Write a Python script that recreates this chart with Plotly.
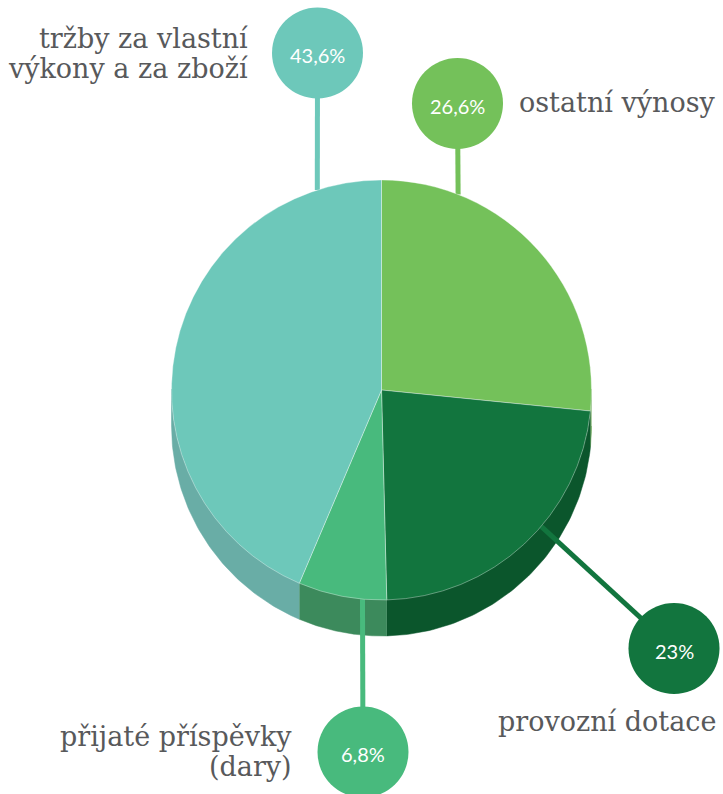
import numpy as np
import plotly.graph_objects as go

# ---- data ----
categories = ["ostatní výnosy", "provozní dotace", "přijaté příspěvky (dary)",
              "tržby za vlastní výkony a za zboží"]
label_lines = [["ostatní výnosy"], ["provozní dotace"], ["přijaté příspěvky", "(dary)"],
               ["tržby za vlastní", "výkony a za zboží"]]
values = [26.6, 23.0, 6.8, 43.6]
pct_labels = ["26,6%", "23%", "6,8%", "43,6%"]

# ---- styles / layout constants ----
top_colors = ["#74C15A", "#12753E", "#48BA7D", "#6DC8BA"]
side_colors = ["#5E9E4A", "#0B562C", "#3C8A5C", "#69ADA6"]
W, H = 723, 794
CX, CY, R = 381.5, 390.0, 210.0
DEPTH = 36.0
LINE_GAP = 30.0
# callout circles (pixel positions) and the rim angle where each leader line starts
callout_x = [457.5, 674.0, 363.0, 317.5]
callout_y = [103.5, 648.5, 752.0, 53.0]
anchor_deg = [21.4, 130.5, 185.2, 342.2]
label_pos = [(517, 102, "left"), (718, 721, "right"), (294, 736, "right"), (250, 38, "right")]

fig = go.Figure()

# side walls of the extruded pie (computed from the slice angles)
tot = sum(values)
start = 0.0
for v, c in zip(values, side_colors):
    a0 = start
    a1 = start + 360.0 * v / tot
    start = a1
    lo, hi = max(a0, 90.0), min(a1, 270.0)
    if hi <= lo:
        continue
    th = np.radians(np.linspace(lo, hi, 80))
    xs = CX + R * np.sin(th)
    ys = CY - R * np.cos(th)
    px = np.concatenate([xs, xs[::-1]])
    py = np.concatenate([ys - 1, (ys + DEPTH)[::-1]])
    fig.add_trace(go.Scatter(x=px, y=py, mode="lines", fill="toself", fillcolor=c,
                             line=dict(color=c, width=0.5), hoverinfo="skip"))

# leader lines
for ang, cx, cy, c in zip(anchor_deg, callout_x, callout_y, top_colors):
    t = np.radians(ang)
    ax, ay = CX + R * np.sin(t), CY - R * np.cos(t)
    fig.add_trace(go.Scatter(x=[ax, cx], y=[ay, cy], mode="lines",
                             line=dict(color=c, width=5), hoverinfo="skip"))

# callout circles
fig.add_trace(go.Scatter(x=callout_x, y=callout_y, mode="markers",
                         marker=dict(size=91, color=top_colors, line=dict(width=0)),
                         hoverinfo="skip"))

# top face of the pie
fig.add_trace(go.Pie(values=values, labels=categories, sort=False, direction="clockwise",
                     rotation=0, textinfo="none", hoverinfo="skip",
                     marker=dict(colors=top_colors, line=dict(color="rgba(255,255,255,0.35)", width=1)),
                     domain=dict(x=[(CX - R) / W, (CX + R) / W],
                                 y=[1 - (CY + R) / H, 1 - (CY - R) / H])))

# percentages inside the circles
for cx, cy, txt in zip(callout_x, callout_y, pct_labels):
    fig.add_annotation(x=cx, y=cy, xref="x", yref="y", text=txt, showarrow=False,
                       xanchor="center", yanchor="middle", yshift=-2,
                       font=dict(family="Lato", size=20, color="white"))

for (lx, ly, al), lines in zip(label_pos, label_lines):
    for i, txt in enumerate(lines):
        fig.add_annotation(x=lx, y=ly + i * LINE_GAP, xref="x", yref="y", text=txt,
                           showarrow=False, xanchor=al, yanchor="middle", align=al,
                           font=dict(family="DejaVu Serif", size=27, color="#58595B"))

fig.update_layout(width=W, height=H, margin=dict(l=0, r=0, t=0, b=0),
                  paper_bgcolor="white", plot_bgcolor="white", showlegend=False,
                  xaxis=dict(range=[0, W], visible=False, fixedrange=True),
                  yaxis=dict(range=[H, 0], visible=False, fixedrange=True))

fig.write_html("out.html", config={"displayModeBar": False},
               post_script="document.body.style.margin='0';document.body.style.overflow='hidden';")
